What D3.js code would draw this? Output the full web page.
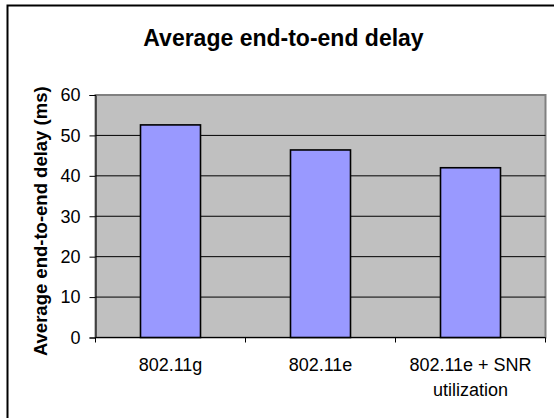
<!DOCTYPE html>
<html>
<head>
<meta charset="utf-8">
<script src="https://cdn.jsdelivr.net/npm/d3@7"></script>
<style>
  body { margin: 0; background: #fff; }
  svg { display: block; font-family: "Liberation Sans", Arial, sans-serif; }
  .grid-line { stroke: #000; stroke-width: 1; }
  .tick-label { font-size: 18px; fill: #000; }
</style>
</head>
<body>
<svg id="chart" width="554" height="418"></svg>
<script>
// Chart data
const categories = ['802.11g', '802.11e', '802.11e + SNR utilization'];
const delays = [52.6, 46.4, 42.0];
const yTicks = [0, 10, 20, 30, 40, 50, 60];
const chartTitle = 'Average end-to-end delay';
const yTitle = 'Average end-to-end delay (ms)';

const svg = d3.select('#chart');
const margin = { top: 95, right: 8.5, bottom: 80.5, left: 95.5 };
const width = 554 - margin.left - margin.right;
const height = 418 - margin.top - margin.bottom;

// Outer frame (runs off the right and bottom edges)
svg.append('rect')
    .attr('x', 7.5).attr('y', 5.5)
    .attr('width', 700).attr('height', 600)
    .attr('fill', 'none')
    .attr('stroke', '#000')
    .attr('stroke-width', 2);

// Title
svg.append('text')
    .attr('x', 283.5).attr('y', 46)
    .attr('text-anchor', 'middle')
    .style('font-size', '23px')
    .style('font-weight', 'bold')
    .text(chartTitle);

const g = svg.append('g')
    .attr('transform', `translate(${margin.left},${margin.top})`);

const xScale = d3.scaleBand()
    .domain(categories)
    .range([0, width])
    .paddingInner(0.6)
    .paddingOuter(0.3);

const yScale = d3.scaleLinear()
    .domain([0, 60])
    .range([height, 0]);

// Plot area background
g.append('rect')
    .attr('width', width).attr('height', height)
    .attr('fill', '#c0c0c0')
    .attr('stroke', '#808080')
    .attr('stroke-width', 2);

// Horizontal grid lines
g.selectAll('.grid-line')
    .data(yTicks.filter(d => d > 0 && d < 60))
    .enter()
    .append('line')
    .attr('class', 'grid-line')
    .attr('x1', 0).attr('x2', width)
    .attr('y1', d => yScale(d)).attr('y2', d => yScale(d));

// Bars
g.selectAll('.bar')
    .data(delays)
    .enter()
    .append('rect')
    .attr('class', 'bar')
    .attr('x', (d, i) => xScale(categories[i]))
    .attr('y', d => yScale(d))
    .attr('width', xScale.bandwidth())
    .attr('height', d => height - yScale(d))
    .attr('fill', '#9999ff')
    .attr('stroke', '#000')
    .attr('stroke-width', 1.6);

// Y axis
const yAxis = g.append('g')
    .call(d3.axisLeft(yScale).tickValues(yTicks).tickSize(6).tickPadding(9));
yAxis.select('.domain').attr('stroke', '#000');
yAxis.selectAll('.tick line').attr('stroke', '#000');
yAxis.selectAll('.tick text')
    .attr('class', 'tick-label')
    .style('font-family', 'inherit');

// X axis line and boundary ticks
const boundaries = d3.range(categories.length + 1).map(i => i * xScale.step());
g.append('line')
    .attr('x1', 0).attr('x2', width)
    .attr('y1', height).attr('y2', height)
    .attr('stroke', '#000');
g.selectAll('.x-tick')
    .data(boundaries)
    .enter()
    .append('line')
    .attr('x1', d => d).attr('x2', d => d)
    .attr('y1', height).attr('y2', height + 5)
    .attr('stroke', '#000');

// Category labels, wrapped to the band step
const labels = g.selectAll('.x-label')
    .data(categories)
    .enter()
    .append('text')
    .attr('class', 'tick-label')
    .attr('text-anchor', 'middle')
    .attr('x', d => xScale(d) + xScale.bandwidth() / 2)
    .attr('y', height + 33);

labels.each(function(d) {
    const text = d3.select(this);
    const x = text.attr('x');
    const words = d.split(' ');
    let line = [];
    let tspan = text.append('tspan').attr('x', x).attr('dy', 0);
    for (const word of words) {
        line.push(word);
        tspan.text(line.join(' '));
        if (tspan.node().getComputedTextLength() > xScale.step() - 10 && line.length > 1) {
            line.pop();
            tspan.text(line.join(' '));
            line = [word];
            tspan = text.append('tspan').attr('x', x).attr('dy', '1.4em').text(word);
        }
    }
});

// Y axis title
svg.append('text')
    .attr('transform', `translate(47,${margin.top + height / 2 + 5}) rotate(-90)`)
    .attr('text-anchor', 'middle')
    .style('font-size', '18.5px')
    .style('font-weight', 'bold')
    .text(yTitle);
</script>
</body>
</html>
